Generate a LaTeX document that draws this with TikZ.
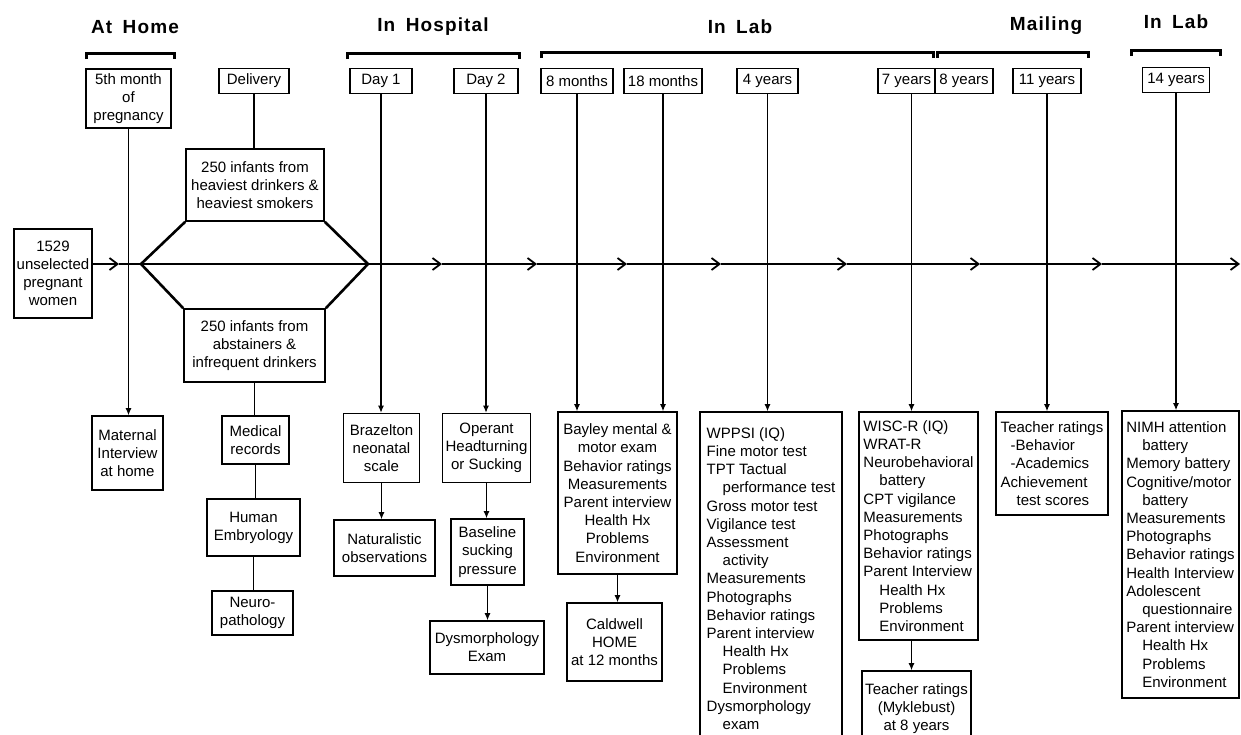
\documentclass[tikz,border=0pt]{standalone}
\usepackage{fontspec}
\setmainfont{Liberation Sans}
\newfontfamily\stagefont[LetterSpace=6]{Liberation Sans}
\usetikzlibrary{positioning,arrows.meta}
\tikzstyle{box}=[draw,line width=1.6pt,align=center,inner sep=3pt,
  font=\fontsize{15}{18.2}\selectfont]
\tikzstyle{stage}=[font=\stagefont\bfseries\fontsize{19}{22}\selectfont]
\tikzstyle{bracket}=[line width=3pt]
\tikzstyle{flow}=[line width=1.8pt,-{Straight Barb[length=8pt,width=12pt]}]
\tikzstyle{hexline}=[line width=2.6pt]
\newcommand{\newBox}[4]{\node[box,#3](#1) at (#4){#2};}
\newcommand{\newLink}[3]{\draw[#3] (#1.south) -- (#1.south |- #2.north);}
\newcommand{\newBracket}[3]{\draw[bracket] (#1,#3+6) |- (#2,#3) -- (#2,#3+6);}

\begin{document}
\begin{tikzpicture}[x=1pt,y=-1pt,
      >={Latex[length=7pt,width=6pt]},
      line width=1.1pt
      ]
      \path[use as bounding box,fill=white] (0,0) rectangle (1241,734);
      % stages
      \node[stage] (home) at (135,27) {At\hspace{4pt} Home};
      \node[stage] (hosp) at (433,27) {In\hspace{4pt} Hospital};
      \node[stage] (lab) at (740,27) {In\hspace{4pt} Lab};
      \node[stage] (mail) at (1046,26) {Mailing};
      \node[stage] (labb) at (1176,22) {In\hspace{4pt} Lab};
      \newBracket{86}{174}{53}
      \newBracket{347}{519}{53}
      \newBracket{541}{933}{52}
      \newBracket{937}{1088}{52}
      \newBracket{1131}{1220}{50}
      % time points
      \newBox{fifth}{5th month\\of\\pregnancy}{minimum width=85pt,minimum height=59pt}{128.5,98.5}
      \newBox{deliv}{Delivery}{minimum width=70pt,minimum height=25pt}{254,81}
      \newBox{day1}{Day 1}{minimum width=62pt,minimum height=25pt}{381,81}
      \newBox{day2}{Day 2}{minimum width=64pt,minimum height=25pt}{486,81}
      \newBox{m8}{8 months}{minimum width=72pt,minimum height=25pt}{577,81}
      \newBox{m18}{18 months}{minimum width=78pt,minimum height=25pt}{663,81}
      \newBox{y4}{4 years}{minimum width=61pt,minimum height=25pt}{767.5,81}
      \newBox{y7}{7 years}{minimum width=57pt,minimum height=25pt}{906.5,81}
      \newBox{y8}{8 years}{minimum width=58pt,minimum height=25pt}{964,81}
      \newBox{y11}{11 years}{minimum width=68pt,minimum height=25pt}{1047,81}
      \newBox{y14}{14 years}{minimum width=67pt,minimum height=25pt}{1176,80}
      % sample
      \newBox{women}{1529\\unselected\\pregnant\\women}{minimum width=78pt,minimum height=89pt}{53,273.5}
      \newBox{grpA}{250 infants from\\heaviest drinkers \&\\heaviest smokers}{minimum width=138pt,minimum height=72pt}{255,185}
      \newBox{grpB}{250 infants from\\abstainers \&\\infrequent drinkers}{minimum width=141pt,minimum height=73pt}{254.5,345.5}
      \coordinate (hexL) at (141,264);
      \coordinate (hexR) at (368,264);
      \draw[hexline] (grpA.south west) -- (hexL) -- (grpB.north west);
      \draw[hexline] (grpA.south east) -- (hexR) -- (grpB.north east);
      % timeline
      \coordinate (a1) at (119,264);
      \coordinate (a2) at (442,264);
      \coordinate (a3) at (537,264);
      \coordinate (a4) at (627,264);
      \coordinate (a5) at (721,264);
      \coordinate (a6) at (847,264);
      \coordinate (a7) at (980,264);
      \coordinate (a8) at (1102,264);
      \coordinate (a9) at (1240,264);
      \draw[flow] (women.east |- a1) -- (a1);
      \foreach \a/\b in {a1/a2,a2/a3,a3/a4,a4/a5,a5/a6,a6/a7,a7/a8,a8/a9}
        \draw[flow] (\a) -- (\b);
      % measures
      \newBox{mat}{Maternal\\Interview\\at home}{minimum width=71pt,minimum height=74pt}{127.5,453}
      \newBox{med}{Medical\\records}{minimum width=67pt,minimum height=48pt}{255.5,440}
      \newBox{emb}{Human\\Embryology}{minimum width=93pt,minimum height=57pt}{253.5,527.5}
      \newBox{neuro}{Neuro-\\pathology}{minimum width=81pt,minimum height=44pt}{252.5,613}
      \newBox{braz}{Brazelton\\neonatal\\scale}{minimum width=76pt,minimum height=69pt}{381.5,448}
      \newBox{natur}{Naturalistic\\observations}{minimum width=101pt,minimum height=56pt}{384.5,548}
      \newBox{oper}{Operant\\Headturning\\or Sucking}{minimum width=85pt,minimum height=69pt}{486.5,448}
      \newBox{base}{Baseline\\sucking\\pressure}{minimum width=73pt,minimum height=66pt}{487.5,552}
      \newBox{dysm}{Dysmorphology\\Exam}{minimum width=114pt,minimum height=53pt}{487,647.5}
      \newBox{bay}{Bayley mental \&\\motor exam\\Behavior ratings\\Measurements\\Parent interview\\Health Hx\\Problems\\Environment}{minimum width=119pt,minimum height=162pt}{617.5,493}
      \newBox{cald}{Caldwell\\HOME\\at 12 months}{minimum width=95pt,minimum height=78pt}{614.5,642}
      \newBox{wppsi}{WPPSI (IQ)\\Fine motor test\\TPT Tactual\\\hspace*{16pt}performance test\\Gross motor test\\Vigilance test\\Assessment\\\hspace*{16pt}activity\\Measurements\\Photographs\\Behavior ratings\\Parent interview\\\hspace*{16pt}Health Hx\\\hspace*{16pt}Problems\\\hspace*{16pt}Environment\\Dysmorphology\\\hspace*{16pt}exam}{align=left,minimum width=142pt,minimum height=333pt}{771,578.5}
      \newBox{wisc}{WISC-R (IQ)\\WRAT-R\\Neurobehavioral\\\hspace*{16pt}battery\\CPT vigilance\\Measurements\\Photographs\\Behavior ratings\\Parent Interview\\\hspace*{16pt}Health Hx\\\hspace*{16pt}Problems\\\hspace*{16pt}Environment}{align=left,minimum width=119pt,minimum height=228pt}{918.5,526}
      \newBox{mykl}{Teacher ratings\\(Myklebust)\\at 8 years}{minimum width=109pt,minimum height=75pt}{916.5,708.5}
      \newBox{teach}{Teacher ratings\\\hspace*{10pt}-Behavior\\\hspace*{10pt}-Academics\\Achievement\\\hspace*{16pt}test scores}{align=left,minimum width=112pt,minimum height=103pt}{1052,463.5}
      \newBox{nimh}{NIMH attention\\\hspace*{16pt}battery\\Memory battery\\Cognitive/motor\\\hspace*{16pt}battery\\Measurements\\Photographs\\Behavior ratings\\Health Interview\\Adolescent\\\hspace*{16pt}questionnaire\\Parent interview\\\hspace*{16pt}Health Hx\\\hspace*{16pt}Problems\\\hspace*{16pt}Environment}{align=left,minimum width=117pt,minimum height=287pt}{1180.5,554.5}
      % links
      \newLink{fifth}{mat}{->}
      \newLink{deliv}{grpA}{}
      \newLink{grpB}{med}{}
      \newLink{med}{emb}{}
      \newLink{emb}{neuro}{}
      \newLink{day1}{braz}{->}
      \newLink{braz}{natur}{->}
      \newLink{day2}{oper}{->}
      \newLink{oper}{base}{->}
      \newLink{base}{dysm}{->}
      \newLink{m8}{bay}{->}
      \newLink{m18}{bay}{->}
      \newLink{bay}{cald}{->}
      \newLink{y4}{wppsi}{->}
      \coordinate (y7s) at ([xshift=5pt]y7.south);
      \draw[->] (y7s) -- (y7s |- wisc.north);
      \draw[->] (y7s |- wisc.south) -- (y7s |- mykl.north);
      \newLink{y11}{teach}{->}
      \newLink{y14}{nimh}{->}
    \end{tikzpicture}
\end{document}
